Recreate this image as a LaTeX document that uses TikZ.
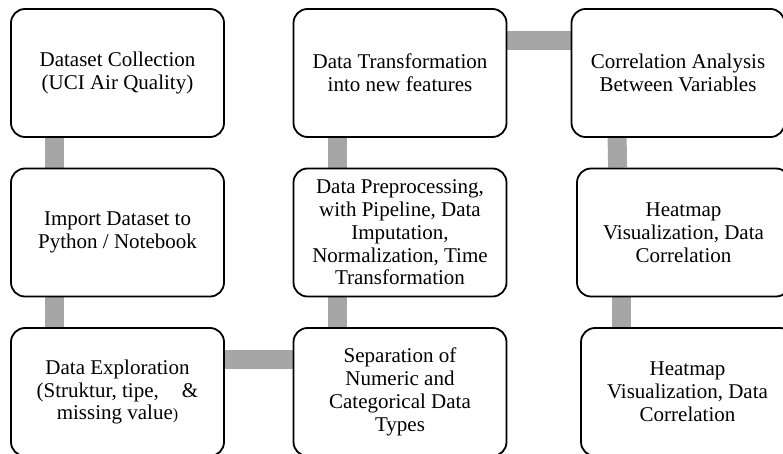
\documentclass[tikz,border=0pt]{standalone}
\usepackage{fontspec}
\setmainfont{Liberation Serif}
\usetikzlibrary{backgrounds}

\definecolor{linkgray}{HTML}{A6A6A6}
\tikzset{
  stepbox/.style={draw, line width=1.8pt, rounded corners=14pt, fill=white,
    minimum width=213pt, minimum height=128pt, align=center, inner sep=2pt,
    font=\fontsize{21}{22.8}\selectfont},
  link/.style={line width=19pt, draw=linkgray}
}

\begin{document}
\begin{tikzpicture}[x=1pt,y=-1pt]
      \useasboundingbox (0,0) rectangle (783,454);
      \clip (0,0) rectangle (783,454);
      % first column, top to bottom
      \node[stepbox] at (117.5,73) (collect){Dataset Collection\\(UCI Air Quality)};
      \node[stepbox] at (117.5,232.5) (import){Import Dataset to\\Python / Notebook};
      \node[stepbox] at (117.5,392) (explore){Data Exploration\\(Struktur, tipe,\hspace{1.1em}\&\\missing value{\fontsize{16}{16}\selectfont )}};
      % second column, bottom to top
      \node[stepbox] at (400,392) (separate){Separation of\\Numeric and\\Categorical Data\\Types};
      \node[stepbox] at (400,232.5) (preproc){Data Preprocessing,\\with Pipeline, Data\\Imputation,\\Normalization, Time\\Transformation};
      \node[stepbox] at (400,73) (transform){Data Transformation\\into new features};
      % third column, top to bottom
      \node[stepbox] at (678,73) (corr){Correlation Analysis\\Between Variables};
      \node[stepbox] at (683.5,232.5) (heat1){Heatmap\\Visualization, Data\\Correlation};
      \node[stepbox] at (687.5,392) (heat2){Heatmap\\Visualization, Data\\Correlation};
      \begin{scope}[on background layer]
        \draw[link] ([xshift=44pt]collect.south west) -- ([xshift=44pt]import.north west);
        \draw[link] ([xshift=44pt]import.south west) -- ([xshift=44pt]explore.north west);
        \draw[link] ([yshift=-32pt]explore.north east) -- ([yshift=-32pt]separate.north west);
        \draw[link] ([xshift=45pt]separate.north west) -- ([xshift=45pt]preproc.south west);
        \draw[link] ([xshift=45pt]preproc.north west) -- ([xshift=45pt]transform.south west);
        \draw[link] ([yshift=-32pt]transform.north east) -- ([yshift=-32pt]corr.north west);
        \draw[link] ([xshift=46.5pt]corr.south west) -- ([xshift=41.5pt]heat1.north west);
        \draw[link] ([xshift=45.5pt]heat1.south west) -- ([xshift=41.5pt]heat2.north west);
      \end{scope}
    \end{tikzpicture}
\end{document}
